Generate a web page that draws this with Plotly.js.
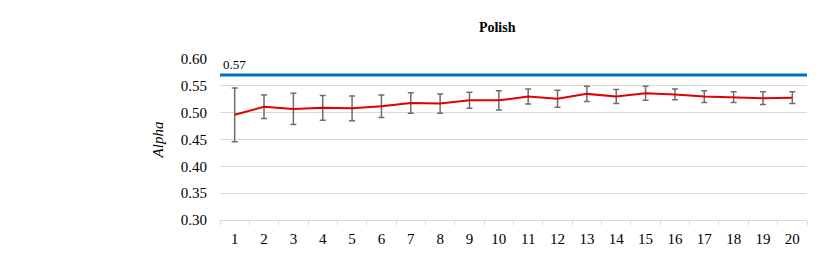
<!DOCTYPE html>
<html>
<head>
<meta charset="utf-8">
<script src="https://cdn.plot.ly/plotly-3.0.1.min.js"></script>
<style>html,body{margin:0;padding:0;background:#fff;}#chart{width:830px;height:259px;}</style>
</head>
<body>
<div id="chart"></div>
<script>
const categories = ["1","2","3","4","5","6","7","8","9","10","11","12","13","14","15","16","17","18","19","20"];
const alphaMean = [0.496,0.511,0.507,0.509,0.508,0.512,0.518,0.517,0.523,0.523,0.530,0.526,0.535,0.530,0.536,0.534,0.530,0.529,0.527,0.528];
const alphaErr  = [0.050,0.022,0.029,0.023,0.023,0.021,0.019,0.018,0.015,0.018,0.014,0.016,0.014,0.013,0.013,0.010,0.011,0.010,0.012,0.011];
const threshold = 0.57;
const thresholdLabel = "0.57";
const yTicks = [0.30,0.35,0.40,0.45,0.50,0.55,0.60];

const serif = "'Liberation Serif','Times New Roman',serif";

const traces = [{
  type: 'scatter',
  mode: 'lines',
  x: categories,
  y: alphaMean,
  line: {color: '#e00000', width: 2},
  error_y: {type: 'data', array: alphaErr, visible: true, color: '#6e6e6e', thickness: 1.5, width: 3},
  showlegend: false,
  hoverinfo: 'x+y'
}];

const layout = {
  width: 830, height: 259,
  margin: {l: 220, r: 23, t: 59, b: 39},
  paper_bgcolor: '#fff', plot_bgcolor: '#fff',
  title: {text: '<b>Polish</b>', font: {family: serif, size: 14, color: '#000'}, x: 0.599, xref: 'container', xanchor: 'center', y: 0.895, yref: 'container', yanchor: 'middle'},
  xaxis: {
    type: 'category',
    range: [-0.5, categories.length - 0.5],
    tickson: 'boundaries',
    ticks: 'outside', ticklen: 4, tickcolor: '#d9d9d9', tickwidth: 1,
    showline: true, linecolor: '#d9d9d9', linewidth: 1,
    showgrid: false, zeroline: false,
    tickfont: {family: serif, size: 15, color: '#000'},
    ticklabelstandoff: 5,
    fixedrange: true
  },
  yaxis: {
    range: [0.30, 0.60],
    tickvals: yTicks,
    tickformat: '.2f',
    showgrid: true, gridcolor: '#d9d9d9', gridwidth: 1,
    zeroline: false, showline: false, ticks: '',
    tickfont: {family: serif, size: 15, color: '#000'},
    ticklabelstandoff: 12,
    title: {text: '<i>Alpha</i>', font: {family: serif, size: 15, color: '#000'}, standoff: 13},
    fixedrange: true
  },
  shapes: [{
    type: 'line', xref: 'paper', x0: 0, x1: 1, yref: 'y', y0: threshold, y1: threshold,
    line: {color: '#0070C0', width: 3}
  }],
  annotations: [{
    xref: 'paper', x: 0, xanchor: 'left', xshift: 1,
    yref: 'y', y: threshold, yanchor: 'bottom', yshift: 1,
    text: thresholdLabel, showarrow: false,
    font: {family: serif, size: 13, color: '#000'}
  }]
};

Plotly.newPlot('chart', traces, layout, {displayModeBar: false, staticPlot: true});
</script>
</body>
</html>
